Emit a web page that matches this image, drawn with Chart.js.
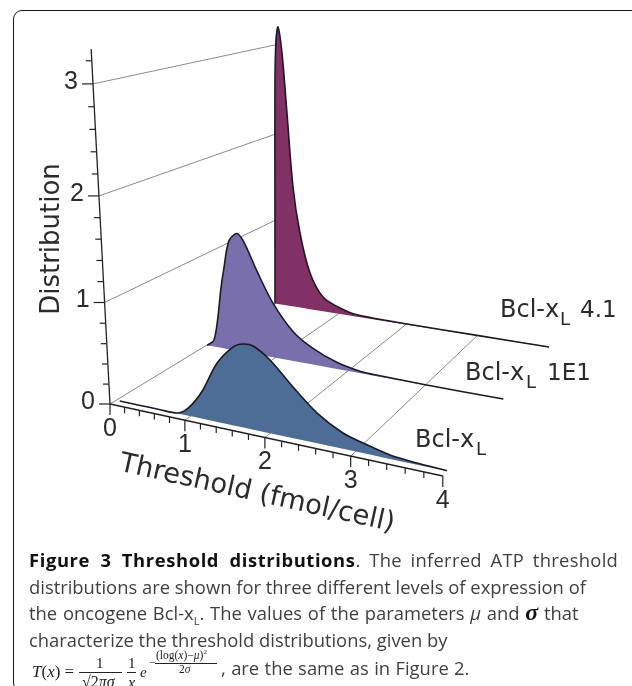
<!DOCTYPE html>
<html>
<head>
<meta charset="utf-8">
<style>
html,body{margin:0;padding:0;background:#fff;width:632px;height:686px;overflow:hidden}
#frame{position:absolute;left:13px;top:10px;width:720px;height:680px;border:1px solid #1a1a1a;border-radius:9px}
#c{position:absolute;left:0;top:0}
.cap{position:absolute;left:29px;white-space:nowrap;font-family:"Open Sans",sans-serif;font-size:18.4px;color:#3f3f3f;line-height:26px}
.cap b{color:#111}
sub{font-size:60%;line-height:0}
.f{position:absolute;font-family:"Liberation Serif",serif;color:#222;white-space:nowrap;line-height:1}
.bar{position:absolute;height:1px;background:#222}
</style>
</head>
<body>
<div id="frame"></div>
<canvas id="c" width="632" height="686"></canvas>
<div class="cap" style="top:547px"><b style="letter-spacing:.6px;word-spacing:5px">Figure 3 Threshold distributions</b><span style="letter-spacing:.3px;word-spacing:3.5px">. The inferred ATP threshold</span></div>
<div class="cap" style="top:574px">distributions are shown for three different levels of expression of</div>
<div class="cap" style="top:600px;word-spacing:1px">the oncogene Bcl-x<sub>L</sub>. The values of the parameters <i>μ</i> and <b style="font-family:'Liberation Serif';font-size:24px;line-height:0"><i>σ</i></b> that</div>
<div class="cap" style="top:627px">characterize the threshold distributions, given by</div>
<div class="cap" style="top:655px;left:221px;word-spacing:.6px">, are the same as in Figure 2.</div>
<div class="f" style="left:32px;top:663px;font-size:17px"><i>T</i>(<i>x</i>) =</div>
<div class="f" style="left:96px;top:656px;font-size:15px">1</div>
<div class="bar" style="left:79px;top:672px;width:43px"></div>
<div class="f" style="left:82px;top:674px;font-size:16px">√2<i>πσ</i></div>
<div class="f" style="left:128px;top:656px;font-size:15px">1</div>
<div class="bar" style="left:127px;top:672px;width:9px"></div>
<div class="f" style="left:128px;top:675px;font-size:16px"><i>x</i></div>
<div class="f" style="left:140px;top:665px;font-size:15px"><i>e</i></div>
<div class="f" style="left:149px;top:657px;font-size:11px">−</div>
<div class="f" style="left:156px;top:650px;font-size:11.5px">(log(<i>x</i>)−<i>μ</i>)<sup style="font-size:7px;line-height:0">2</sup></div>
<div class="bar" style="left:155px;top:663px;width:62px"></div>
<div class="f" style="left:179px;top:664px;font-size:11.5px">2<i>σ</i></div>
<script src="https://cdn.jsdelivr.net/npm/chart.js@4/dist/chart.umd.min.js"></script>
<script>
// ---- values ----
const frontThreshold = [0.05,0.30,0.60,0.82,0.92,1.04,1.17,1.36,1.563,1.687,1.808,2.01,2.28,2.56,2.857,3.084,3.385,3.68,4.0];
const frontDensity   = [0,0,0,0.002,0.04,0.135,0.283,0.57,0.749,0.794,0.792,0.691,0.48,0.283,0.147,0.093,0.036,0.015,0.004];
const midThreshold   = [0.01,0.11,0.178,0.235,0.285,0.367,0.482,0.579,0.767,0.97,1.256,1.527,1.85,2.155,2.322,3.0,3.95];
const midDensity     = [0,0.067,0.32,0.653,0.874,1.18,1.275,1.20,0.895,0.60,0.318,0.175,0.071,0.02,0.012,0.004,0.002];
const backThreshold  = [0,0.021,0.043,0.067,0.10,0.156,0.222,0.304,0.406,0.558,0.758,1.019,1.277,2.016,3.0,3.96];
const backDensity    = [0,1.249,2.544,3.06,3.207,2.925,2.263,1.425,0.896,0.436,0.172,0.071,0.022,0.008,0.005,0.003];
const xTickLabels = ["0","1","2","3","4"];
const yTickLabels = ["0","1","2","3"];
const seriesNames = ["Bcl-x","Bcl-x","Bcl-x"];
const seriesSuffix = ["", "1E1", "4.1"];
const axisTitles = ["Threshold (fmol/cell)","Distribution"];

// ---- 3D view: threshold t, density d, depth s -> picture plane ----
const depthFront = 0.03, depthMid = 0.53, depthBack = 1;
function project(t,d,s){
  const w = 1 - 0.0323*t - 0.0238*d + 0.252*s;
  return { x:(110 + 68.9*t - 7.88*d + 234.3*s)/w, y:(404 + 2.63*t - 108.7*d - 24*s)/w };
}
const curve = (ts,ds,s)=>ts.map((t,i)=>project(t,ds[i],s));
const base  = (ts,s)=>ts.map(t=>project(t,0,s));
const lineSet = (data,color,width)=>({data,showLine:true,borderColor:color,borderWidth:width,pointRadius:0,fill:false,tension:0});
const areaSet = (data,fillColor)=>({data,showLine:true,borderColor:'#1b1a26',borderWidth:1.6,pointRadius:0,tension:0.3,fill:false,areaColor:fillColor});
const baseSet = (data)=>({data,showLine:true,borderWidth:0,borderColor:'rgba(0,0,0,0)',pointRadius:0,tension:0,fill:false});

const axisColor='#222', gridColor='#8a8a8a';
const datasets=[];
// axes and ticks on top
datasets.push(lineSet([project(0,0,0),project(4,0,0)],axisColor,1.6));
datasets.push(lineSet([project(0,3.3,0),project(0,0,0)],axisColor,1.3));
for(let i=0;i<=20;i++){
  const t=i/5, p=project(t,0,0), major=i%5===0;
  datasets.push(lineSet([p,{x:p.x,y:p.y+(major?11:6)}],axisColor,1.2));
}
for(let i=0;i<=16;i++){
  const d=i/5, p=project(0,d,0), major=i%5===0;
  datasets.push(lineSet([p,{x:p.x-(major?11:6),y:p.y}],axisColor,1.2));
}
// the three curves, front to back; each is followed by its floor line
datasets.push(areaSet(curve(frontThreshold,frontDensity,depthFront),'#4d6c96'));
datasets.push(baseSet(base(frontThreshold,depthFront)));
datasets.push(areaSet(curve(midThreshold,midDensity,depthMid),'#7a6fad'));
datasets.push(baseSet(base(midThreshold,depthMid)));
datasets.push(areaSet(curve(backThreshold,backDensity,depthBack),'#823165'));
datasets.push(baseSet(base(backThreshold,depthBack)));
// grid lines
[0,1,2,3].forEach(t=>datasets.push(lineSet([project(t,0,0),project(t,0,1)],gridColor,1)));
[1,2,3].forEach(d=>datasets.push(lineSet([project(0,d,0),project(0,d,1.03)],gridColor,1)));

// fills the area between each curve and its floor line, just under the curve
const areaPlugin={
  id:'areas',
  beforeDatasetDraw(chart,args){
    const ds=chart.data.datasets[args.index];
    if(!ds.areaColor) return;
    const c=chart.ctx, line=args.meta.dataset, floor=chart.getDatasetMeta(args.index+1).data;
    c.save();
    c.beginPath();
    line.path(c);
    for(let i=floor.length-1;i>=0;i--) c.lineTo(floor[i].x,floor[i].y);
    c.closePath();
    c.fillStyle=ds.areaColor;
    c.fill();
    c.restore();
  }
};

const textPlugin={
  id:'texts',
  afterDraw(chart){
    const c=chart.ctx, X=chart.scales.x, Y=chart.scales.y;
    const at=(p,dx,dy)=>[X.getPixelForValue(p.x)+dx,Y.getPixelForValue(p.y)+dy];
    c.save();
    c.fillStyle='#2b2b2b';
    c.textAlign='center'; c.textBaseline='middle';
    c.font='25px "Liberation Sans"';
    xTickLabels.forEach(l=>{const [a,b]=at(project(+l,0,0),0,25);c.fillText(l,a,b);});
    yTickLabels.forEach(l=>{const [a,b]=at(project(0,+l,0),-22,-2);c.fillText(l,a,b);});
    c.font='26px "DejaVu Sans"';
    c.save();c.translate(52,239);c.rotate(-Math.PI/2);c.fillText(axisTitles[1],0,0);c.restore();
    c.font='27.3px "DejaVu Sans"';
    c.save();c.translate(257,494);c.rotate(12.5*Math.PI/180);c.fillText(axisTitles[0],0,0);c.restore();
    c.textAlign='left'; c.textBaseline='alphabetic';
    const lab=[[415,447,476,0],[465,380,526,547],[500,317,560,580]];
    lab.forEach((q,i)=>{
      c.font='24px "DejaVu Sans"'; c.fillText(seriesNames[i],q[0],q[1]);
      c.font='18px "DejaVu Sans"'; c.fillText('L',q[2],q[1]+8);
      c.font='23px "DejaVu Sans"'; if(seriesSuffix[i]) c.fillText(seriesSuffix[i],q[3],q[1]);
    });
    c.restore();
  }
};

new Chart(document.getElementById('c'),{
  type:'scatter',
  data:{datasets},
  options:{
    responsive:false,animation:false,
    layout:{padding:0},
    plugins:{legend:{display:false},tooltip:{enabled:false},title:{display:false}},
    scales:{
      x:{type:'linear',min:0,max:632,display:false},
      y:{type:'linear',min:0,max:686,reverse:true,display:false}
    }
  },
  plugins:[areaPlugin,textPlugin]
});
</script>
</body>
</html>
